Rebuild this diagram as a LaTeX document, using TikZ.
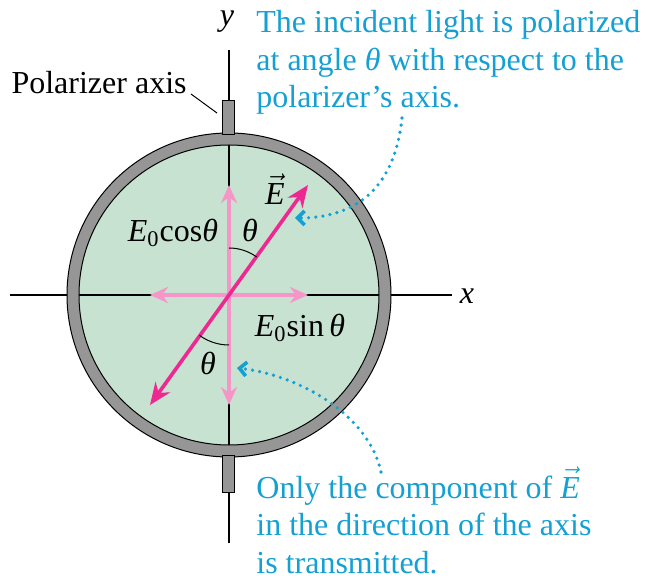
\documentclass[tikz,border=0pt]{standalone}
\usepackage{fontspec}
\setmainfont{Liberation Serif}
\usepackage{tikz}
\usetikzlibrary{
  arrows.meta,
  calc
}
\definecolor{noteblue}{RGB}{20, 160, 210}
\definecolor{platefill}{RGB}{200, 226, 210}
\definecolor{ringgray}{RGB}{150, 150, 150}
\definecolor{fieldpink}{RGB}{238, 40, 145}
\definecolor{comppink}{RGB}{246, 150, 200}
\tikzset{
  axisline/.style = {draw=black, line width=0.7pt},
  rimline/.style  = {draw=black, line width=0.5pt},
  fieldarr/.style = {
    {Stealth[length=11pt, width=9pt]}-{Stealth[length=11pt, width=9pt]},
    draw=fieldpink, line width=1.8pt
  },
  comparr/.style  = {-{Stealth[length=9pt, width=8pt]}, draw=comppink, line width=1.8pt},
  notearr/.style  = {
    -{Straight Barb[length=3.5pt, width=7pt]}, draw=noteblue,
    line width=1.8pt, line cap=round, dash pattern=on 0pt off 3.6pt
  },
  anglearc/.style = {draw=black, line width=0.5pt},
  lbl/.style  = {font=\fontsize{16}{18.75}\selectfont, inner sep=0pt},
  note/.style = {
    font=\fontsize{16}{18.75}\selectfont, text=noteblue,
    align=left, inner sep=0pt
  },
}

\begin{document}
\begin{tikzpicture}[x=0.5pt, y=0.5pt]
  \useasboundingbox (-229,-283) rectangle (419,295);

  %% Points
  \coordinate (O)  at (0,0);
  \coordinate (xl) at (-219,0);
  \coordinate (xr) at (223,0);
  \coordinate (yb) at (0,-248);
  \coordinate (yt) at (0,245);
  \coordinate (cu) at (0,110);
  \coordinate (cd) at (0,-110);
  \coordinate (cl) at (-79,0);
  \coordinate (cr) at (79,0);
  \coordinate (Eh) at (79,110);
  \coordinate (Et) at (-79,-110);

  %% Plate and axes
  \fill[platefill] (O) circle (150);
  \draw[axisline] (xl) -- (xr);
  \draw[axisline] (yb) -- (yt);

  %% Rim and stubs
  \fill[ringgray, even odd rule] (O) circle (162) (O) circle (150);
  \draw[rimline] (O) circle (162) (O) circle (150);
  \draw[rimline, fill=ringgray] (-6,160) rectangle (6,194);
  \draw[rimline, fill=ringgray] (-6,-160) rectangle (6,-197);

  %% Field and components
  \draw[comparr] (O) -- (cu);
  \draw[comparr] (O) -- (cd);
  \draw[comparr] (O) -- (cl);
  \draw[comparr] (O) -- (cr);
  \draw[fieldarr] (Et) -- (Eh);
  \draw[anglearc] (0,47) arc[start angle=90, end angle=54, radius=47];
  \draw[anglearc] (0,-50) arc[start angle=270, end angle=234, radius=50];

  %% Labels
  \node[lbl] (ylab) at (-2,273) {\textit{y}};
  \node[lbl] (xlab) at (238,-1) {\textit{x}};
  \node[lbl] (Elab) at (46,106) {$\vec{\textit{E}}$};
  \node[lbl] (cosl) at (-56,62) {\textit{E}\textsubscript{0}cos\textit{θ}};
  \node[lbl] (sinl) at (71,-33) {\textit{E}\textsubscript{0}sin\,\textit{θ}};
  \node[lbl] (th1)  at (21,65) {\textit{θ}};
  \node[lbl] (th2)  at (-21,-68) {\textit{θ}};
  \node[lbl, anchor=base east] (paxis) at (-42,201) {Polarizer axis};
  \coordinate (pstub) at (-12,182);
  \draw[rimline] ($(paxis.base east)+(4,0)$) -- (pstub);

  %% Notes
  \node[note, anchor=base west] (topnote) at (27,187)
    {The incident light is polarized\\at angle \textit{θ} with respect to the\\polarizer’s axis.};
  \node[note, anchor=base west] (botnote) at (27,-278)
    {Only the component of $\vec{\textit{E}}$\\in the direction of the axis\\is transmitted.};
  \coordinate (t1) at (173,177);
  \coordinate (t2) at (66,77);
  \coordinate (b1) at (152,-177);
  \coordinate (b2) at (8,-73);
  \draw[notearr] (t1) .. controls (165,100) and (120,77) .. (t2);
  \draw[notearr] (b1) .. controls (140,-120) and (70,-80) .. (b2);

\end{tikzpicture}
\end{document}
